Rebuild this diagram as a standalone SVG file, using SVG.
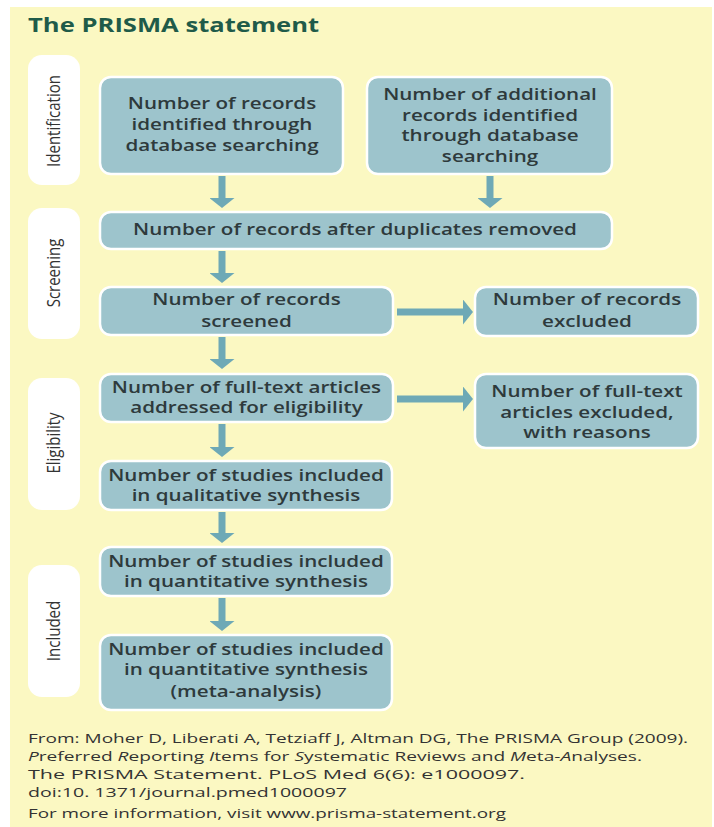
<svg xmlns="http://www.w3.org/2000/svg" width="714" height="827" viewBox="0 0 714 827">
  <defs>
    <marker id="ah" viewBox="0 0 10 25" refX="1" refY="12.5" markerWidth="10" markerHeight="25" markerUnits="userSpaceOnUse" orient="auto">
      <path d="M0,0 L10,12.5 L0,25 Z" fill="#6ea9b6"/>
    </marker>
    <style>
      .bg { fill: #fbf8c2; }
      .box { fill: #9dc4cc; stroke: #ffffff; stroke-width: 2.5; }
      .side { fill: #ffffff; }
      .bt { font-family: "Open Sans", "Liberation Sans", sans-serif; font-weight: 600; font-size: 15.5px; fill: #2e3a3c; text-anchor: middle; transform-box: fill-box; transform-origin: center; transform: scaleX(1.33); }
      .st { font-family: "Open Sans", "Liberation Sans", sans-serif; font-weight: 400; font-size: 15px; fill: #333333; text-anchor: middle; }
      .title { font-family: "Open Sans", "Liberation Sans", sans-serif; font-weight: 700; font-size: 20px; fill: #1f5b49; transform-box: fill-box; transform-origin: left; transform: scaleX(1.28); }
      .ft { font-family: "Open Sans", "Liberation Sans", sans-serif; font-weight: 400; font-size: 13.5px; fill: #333333; }
      .conn line { stroke: #6ea9b6; stroke-width: 7; marker-end: url(#ah); }
    </style>
  </defs>

  <rect class="bg" x="10" y="7" width="702" height="820"/>

  <text class="title" x="28" y="32">The PRISMA statement</text>

  <g id="label-identification">
    <rect class="side" x="28" y="55" width="52" height="130" rx="14"/>
    <text class="st" transform="translate(60,121) scale(1.22,1) rotate(-90)">Identification</text>
  </g>
  <g id="label-screening">
    <rect class="side" x="28" y="208" width="52" height="131" rx="14"/>
    <text class="st" transform="translate(60,273) scale(1.22,1) rotate(-90)">Screening</text>
  </g>
  <g id="label-eligibility">
    <rect class="side" x="28" y="378" width="52" height="132" rx="14"/>
    <text class="st" transform="translate(60,443) scale(1.22,1) rotate(-90)">Eligibility</text>
  </g>
  <g id="label-included">
    <rect class="side" x="28" y="565" width="52" height="132" rx="14"/>
    <text class="st" transform="translate(60,631) scale(1.22,1) rotate(-90)">Included</text>
  </g>

  <g id="n1">
    <rect class="box" x="100" y="77" width="243" height="97" rx="11"/>
    <text class="bt"><tspan x="222" y="109">Number of records</tspan><tspan x="222" y="130">identified through</tspan><tspan x="222" y="151">database searching</tspan></text>
  </g>
  <g id="n2">
    <rect class="box" x="367" y="77" width="245" height="97" rx="11"/>
    <text class="bt"><tspan x="490" y="100">Number of additional</tspan><tspan x="490" y="121">records identified</tspan><tspan x="490" y="141.5">through database</tspan><tspan x="490" y="162">searching</tspan></text>
  </g>
  <g id="n3">
    <rect class="box" x="100" y="212" width="512" height="37" rx="11"/>
    <text class="bt"><tspan x="355" y="235">Number of records after duplicates removed</tspan></text>
  </g>
  <g id="n4">
    <rect class="box" x="100" y="287" width="293" height="48" rx="11"/>
    <text class="bt"><tspan x="246.5" y="305">Number of records</tspan><tspan x="246.5" y="327">screened</tspan></text>
  </g>
  <g id="n5">
    <rect class="box" x="475" y="287" width="223" height="49" rx="11"/>
    <text class="bt"><tspan x="587" y="305">Number of records</tspan><tspan x="587" y="327">excluded</tspan></text>
  </g>
  <g id="n6">
    <rect class="box" x="100" y="374" width="293" height="48" rx="11"/>
    <text class="bt"><tspan x="246.5" y="393">Number of full-text articles</tspan><tspan x="246.5" y="413">addressed for eligibility</tspan></text>
  </g>
  <g id="n7">
    <rect class="box" x="475" y="374" width="223" height="74" rx="11"/>
    <text class="bt"><tspan x="587" y="397">Number of full-text</tspan><tspan x="587" y="418">articles excluded,</tspan><tspan x="587" y="438">with reasons</tspan></text>
  </g>
  <g id="n8">
    <rect class="box" x="100" y="461" width="292" height="49" rx="11"/>
    <text class="bt"><tspan x="246" y="481">Number of studies included</tspan><tspan x="246" y="501">in qualitative synthesis</tspan></text>
  </g>
  <g id="n9">
    <rect class="box" x="100" y="547" width="292" height="49" rx="11"/>
    <text class="bt"><tspan x="246" y="567">Number of studies included</tspan><tspan x="246" y="587">in quantitative synthesis</tspan></text>
  </g>
  <g id="n10">
    <rect class="box" x="100" y="635" width="292" height="75" rx="11"/>
    <text class="bt"><tspan x="246" y="655">Number of studies included</tspan><tspan x="246" y="675">in quantitative synthesis</tspan><tspan x="246" y="697">(meta-analysis)</tspan></text>
  </g>

  <g id="connectors" class="conn">
    <line x1="222" y1="176" x2="222" y2="199"/>
    <line x1="490" y1="176" x2="490" y2="199"/>
    <line x1="222" y1="251" x2="222" y2="274"/>
    <line x1="222" y1="337" x2="222" y2="360"/>
    <line x1="397" y1="312" x2="464" y2="312"/>
    <line x1="397" y1="399" x2="464" y2="399"/>
    <line x1="222" y1="424" x2="222" y2="448"/>
    <line x1="222" y1="512" x2="222" y2="534"/>
    <line x1="222" y1="598" x2="222" y2="622"/>
  </g>

  <g id="footer">
    <text class="ft" x="28" y="743" textLength="660" lengthAdjust="spacingAndGlyphs">From: Moher D, Liberati A, Tetziaff J, Altman DG, The PRISMA Group (2009).</text>
    <text class="ft" x="28" y="761" textLength="614" lengthAdjust="spacingAndGlyphs"><tspan font-style="italic">P</tspan>referred <tspan font-style="italic">R</tspan>eporting <tspan font-style="italic">I</tspan>tems for <tspan font-style="italic">S</tspan>ystematic Reviews and <tspan font-style="italic">M</tspan>eta-<tspan font-style="italic">A</tspan>nalyses.</text>
    <text class="ft" x="28" y="779" textLength="497" lengthAdjust="spacingAndGlyphs">The PRISMA Statement. PLoS Med 6(6): e1000097.</text>
    <text class="ft" x="28" y="797" textLength="319" lengthAdjust="spacingAndGlyphs">doi:10. 1371/journal.pmed1000097</text>
    <text class="ft" x="28" y="818" textLength="478" lengthAdjust="spacingAndGlyphs">For more information, visit www.prisma-statement.org</text>
  </g>
</svg>
